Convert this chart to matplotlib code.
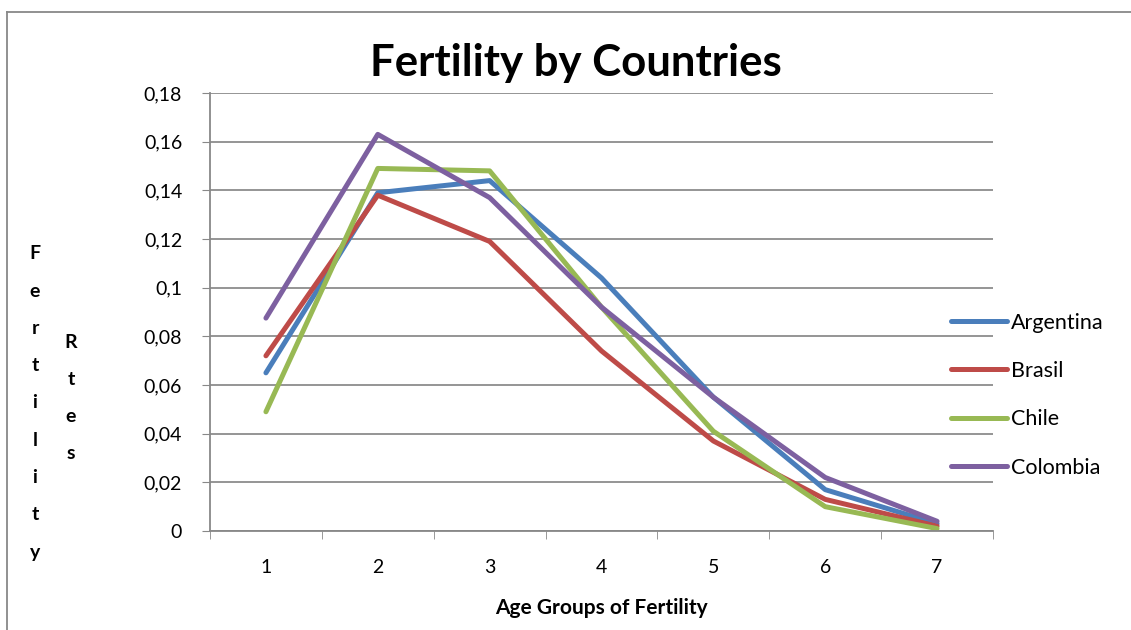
import matplotlib
matplotlib.use("Agg")
import matplotlib.pyplot as plt
from matplotlib.ticker import FuncFormatter, FixedLocator

plt.rcParams['font.family'] = ['Lato', 'DejaVu Sans']

age_groups = [1, 2, 3, 4, 5, 6, 7]
argentina = [0.065, 0.139, 0.144, 0.104, 0.055, 0.017, 0.003]
brasil = [0.072, 0.138, 0.119, 0.074, 0.037, 0.013, 0.002]
chile = [0.049, 0.149, 0.148, 0.092, 0.041, 0.010, 0.001]
colombia = [0.0875, 0.163, 0.137, 0.092, 0.055, 0.022, 0.004]

series = [
    ("Argentina", argentina, "#4a7ebb"),
    ("Brasil", brasil, "#be4b48"),
    ("Chile", chile, "#98b954"),
    ("Colombia", colombia, "#7d60a0"),
]

fig = plt.figure(figsize=(11.31, 6.30), dpi=100)
ax = fig.add_axes([210 / 1131, 99 / 630, 783 / 1131, 438 / 630])

for name, vals, col in series:
    ax.plot(age_groups, vals, color=col, lw=3.6, label=name, solid_capstyle='round',
            solid_joinstyle='round')

ax.set_xlim(0.5, 7.5)
ax.set_ylim(0, 0.18)
ax.set_yticks([i * 0.02 for i in range(10)])
ax.yaxis.set_major_formatter(FuncFormatter(lambda v, p: f"{v:.2f}".rstrip('0').rstrip('.').replace('.', ',') if v else "0"))
ax.set_xticks(age_groups)
ax.xaxis.set_minor_locator(FixedLocator([0.5 + i for i in range(8)]))
ax.tick_params(axis='x', which='major', length=0, labelsize=14, pad=20)
ax.tick_params(axis='x', which='minor', length=6, color='#888888', direction='out')
ax.tick_params(axis='y', length=6, color='#888888', labelsize=14, pad=14)

ax.grid(axis='y', color='#8c8c8c', lw=1.3)
ax.set_axisbelow(True)
for s in ['top', 'right']:
    ax.spines[s].set_visible(False)
for s in ['left', 'bottom']:
    ax.spines[s].set_color('#888888')
    ax.spines[s].set_linewidth(1.3)

ax.set_xlabel("Age Groups of Fertility", fontsize=15, fontweight='bold', labelpad=16)
fig.text(576 / 1131, 1 - 63 / 630, "Fertility by Countries", fontsize=31.5, fontweight='bold',
         ha='center', va='center')

# stacked y label letters
fig.text(35 / 1131, 1 - 403 / 630, "\n".join("Fertility"), fontsize=14, fontweight='bold',
         ha='center', va='center', linespacing=2.45)
fig.text(71 / 1131, 1 - 398 / 630, "\n".join("Rtes"), fontsize=14, fontweight='bold',
         ha='center', va='center', linespacing=2.45)

leg = ax.legend(loc='center left', bbox_to_anchor=(0.922, 0.31), frameon=False, fontsize=15.5,
                handlelength=2.6, labelspacing=1.32, handletextpad=0.15)

# outer chart frame
fig.add_artist(plt.Line2D([7 / 1131, 7 / 1131], [0, 1 - 12 / 630], color='#888888', lw=1.3))
fig.add_artist(plt.Line2D([7 / 1131, 1], [1 - 12 / 630, 1 - 12 / 630], color='#888888', lw=1.3))

fig.savefig("out.png", dpi=100)
